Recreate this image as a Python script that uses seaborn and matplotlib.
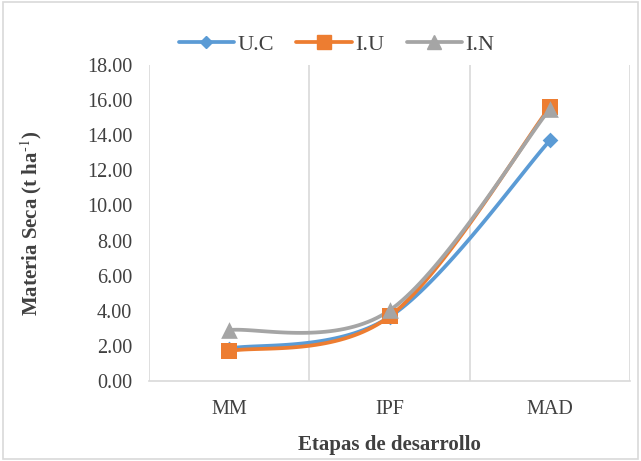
import numpy as np
import pandas as pd
import matplotlib
matplotlib.use("Agg")
import matplotlib.pyplot as plt
import seaborn as sns
from matplotlib.patches import Rectangle

# Data
etapas = ["MM", "IPF", "MAD"]
uc = [1.85, 3.65, 13.70]
iu = [1.70, 3.68, 15.60]
i_n = [2.90, 4.02, 15.50]

series = {"U.C": uc, "I.U": iu, "I.N": i_n}
colors = {"U.C": "#5B9BD5", "I.U": "#ED7D31", "I.N": "#A5A5A5"}
markers = {"U.C": "D", "I.U": "s", "I.N": "^"}
msizes = {"U.C": 8, "I.U": 12, "I.N": 12}

df = pd.DataFrame({"etapa": etapas * 3,
                   "x": list(range(len(etapas))) * 3,
                   "valor": uc + iu + i_n,
                   "serie": ["U.C"] * 3 + ["I.U"] * 3 + ["I.N"] * 3})

sns.set_style("white")
plt.rcParams["font.family"] = ["Liberation Serif", "DejaVu Serif"]
plt.rcParams["mathtext.fontset"] = "stix"


def smooth(xs, ys, n=40):
    # Excel-style smoothed line (Bezier with 1/6 tension)
    xs = np.asarray(xs, float)
    ys = np.asarray(ys, float)
    px, py = [], []
    for i in range(len(xs) - 1):
        i0, i3 = max(i - 1, 0), min(i + 2, len(xs) - 1)
        b0 = np.array([xs[i], ys[i]])
        b3 = np.array([xs[i + 1], ys[i + 1]])
        b1 = b0 + (np.array([xs[i + 1], ys[i + 1]]) - np.array([xs[i0], ys[i0]])) / 6
        b2 = b3 - (np.array([xs[i3], ys[i3]]) - np.array([xs[i], ys[i]])) / 6
        t = np.linspace(0, 1, n)[:, None]
        pts = ((1 - t) ** 3) * b0 + 3 * ((1 - t) ** 2) * t * b1 + 3 * (1 - t) * t ** 2 * b2 + t ** 3 * b3
        px.extend(pts[:, 0])
        py.extend(pts[:, 1])
    return px, py


fig = plt.figure(figsize=(6.41, 4.61), dpi=100)
ax = fig.add_axes([0.2325, 0.1735, 0.7504, 0.6855])

for name, vals in series.items():
    sx, sy = smooth(range(len(etapas)), vals)
    ax.plot(sx, sy, color=colors[name], lw=2.7, zorder=2)

for name in series:
    sub = df[df["serie"] == name]
    sns.scatterplot(data=sub, x="x", y="valor", ax=ax, color=colors[name],
                    marker=markers[name], s=msizes[name] ** 2, edgecolor=colors[name],
                    linewidth=0, zorder=3, legend=False)

# legend handles
handles = [plt.Line2D([], [], color=colors[n], lw=2.7, marker=markers[n],
                      markersize=msizes[n] * 0.8) for n in series]
ax.legend(handles, list(series.keys()), loc="center", bbox_to_anchor=(0.39, 1.065),
          ncol=3, frameon=False, fontsize=16, handlelength=2.5, columnspacing=1.0,
          handletextpad=0.15, labelcolor="#404040", borderpad=0)

ax.set_xlim(-0.5, 2.5)
ax.set_ylim(0, 18)
ax.set_yticks(np.arange(0, 18.1, 2))
ax.set_yticklabels([f"{v:.2f}" for v in np.arange(0, 18.1, 2)])
ax.set_xticks(range(len(etapas)))
ax.set_xticklabels(etapas)
ax.tick_params(axis="both", labelsize=14.5, colors="#404040", length=0)
ax.tick_params(axis="x", pad=14)
ax.tick_params(axis="y", pad=12)

for xb in [-0.5, 0.5, 1.5, 2.5]:
    ax.axvline(xb, color="#D9D9D9", lw=1.2, zorder=1)
for s in ["top", "left", "right"]:
    ax.spines[s].set_visible(False)
ax.spines["bottom"].set_color("#D9D9D9")
ax.spines["bottom"].set_linewidth(1.2)

ax.set_xlabel("Etapas de desarrollo", fontsize=15, fontweight="bold", color="#404040", labelpad=11)
ax.set_ylabel("Materia Seca (t ha$^{\\text{-}1}$)", fontsize=15, fontweight="bold", color="#404040", labelpad=31)

fig.patches.append(Rectangle((0.004, 0.004), 0.992, 0.992, transform=fig.transFigure,
                             fill=False, edgecolor="#D9D9D9", lw=1.2))

fig.savefig("out.png", dpi=100)
